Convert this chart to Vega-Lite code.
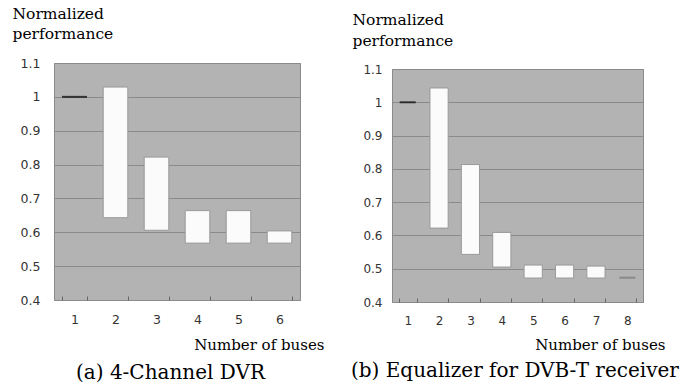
{
  "$schema": "https://vega.github.io/schema/vega-lite/v6.json",
  "padding": {"left": 11, "top": 0, "right": 0, "bottom": 0},
  "background": "white",
  "config": {
    "view": {"fill": "#b3b3b3", "stroke": "#8a8a8a", "strokeWidth": 1}
  },
  "spacing": 25,
  "hconcat": [
    {
      "spacing": 0,
      "vconcat": [
        {
          "width": 1,
          "height": 5,
          "view": {"fill": null, "stroke": null},
          "data": {"values": []},
          "mark": "point"
        },
        {
          "width": 246,
          "height": 237,
          "title": {"text": "(a) 4-Channel DVR", "orient": "bottom", "anchor": "start", "frame": "group", "dx": 22, "offset": 11, "fontSize": 20, "font": "DejaVu Serif", "fontWeight": "normal", "color": "#000000"},
          "data": {"values": [
            {"bus": 1, "lo": 1.0, "hi": 1.0},
            {"bus": 2, "lo": 0.643, "hi": 1.029},
            {"bus": 3, "lo": 0.606, "hi": 0.822},
            {"bus": 4, "lo": 0.568, "hi": 0.664},
            {"bus": 5, "lo": 0.568, "hi": 0.664},
            {"bus": 6, "lo": 0.568, "hi": 0.604}
          ]},
          "encoding": {
            "y": {"field": "lo", "type": "quantitative", "scale": {"domain": [0.4, 1.1], "nice": false, "zero": false},
              "axis": {"values": [0.4, 0.5, 0.6, 0.7, 0.8, 0.9, 1.0, 1.1], "format": ".1~f", "grid": true, "gridColor": "#8a8a8a", "gridWidth": 1, "ticks": false, "domain": false,
                "labelFont": "DejaVu Sans", "labelFontSize": 12.5, "labelColor": "#333333", "labelPadding": 14,
                "title": ["Normalized", "performance"], "titleFont": "DejaVu Serif", "titleFontSize": 15.5, "titleFontWeight": "normal", "titleColor": "#000000",
                "titleAngle": 0, "titleAlign": "left", "titleBaseline": "top", "titleX": -42, "titleY": -57, "titleLineHeight": 20}}
          },
          "layer": [
            {
              "mark": {"type": "bar", "fill": "#fbfbfb", "stroke": "#999999", "strokeWidth": 1},
              "transform": [{"filter": "datum.lo != datum.hi"}],
              "encoding": {
                "x": {"field": "bus", "type": "ordinal", "scale": {"domain": [1, 2, 3, 4, 5, 6], "paddingInner": 0.4, "paddingOuter": 0.2},
                  "axis": {"title": "Number of buses", "titleFont": "DejaVu Serif", "titleFontSize": 15, "titleFontWeight": "normal", "titleColor": "#000000",
                    "titleAlign": "right", "titleX": 270, "titleY": 53, "titleBaseline": "alphabetic",
                    "labelAngle": 0, "labelFont": "DejaVu Sans", "labelFontSize": 12.5, "labelColor": "#333333", "labelPadding": 13,
                    "offset": -4, "domain": false, "grid": false, "ticks": true, "tickBand": "extent", "tickSize": 4, "tickWidth": 1, "tickColor": "#666666"}},
                "y2": {"field": "hi"}
              }
            },
            {
              "mark": {"type": "tick", "thickness": 2, "size": 25},
              "transform": [{"filter": "datum.lo == datum.hi"}],
              "encoding": {
                "x": {"field": "bus", "type": "ordinal"},
                "color": {"condition": {"test": "datum.bus == 1", "value": "#000000"}, "value": "#777777"}
              }
            }
          ]
        }
      ]
    },
    {
      "spacing": 0,
      "vconcat": [
        {
          "width": 1,
          "height": 11,
          "view": {"fill": null, "stroke": null},
          "data": {"values": []},
          "mark": "point"
        },
        {
          "width": 251,
          "height": 233,
          "title": {"text": "(b) Equalizer for DVB-T receiver", "orient": "bottom", "anchor": "start", "frame": "group", "dx": -41, "offset": 9, "fontSize": 20, "font": "DejaVu Serif", "fontWeight": "normal", "color": "#000000"},
          "data": {"values": [
            {"bus": 1, "lo": 1.0, "hi": 1.0},
            {"bus": 2, "lo": 0.622, "hi": 1.043},
            {"bus": 3, "lo": 0.543, "hi": 0.813},
            {"bus": 4, "lo": 0.505, "hi": 0.609},
            {"bus": 5, "lo": 0.472, "hi": 0.511},
            {"bus": 6, "lo": 0.472, "hi": 0.511},
            {"bus": 7, "lo": 0.472, "hi": 0.508},
            {"bus": 8, "lo": 0.473, "hi": 0.473}
          ]},
          "encoding": {
            "y": {"field": "lo", "type": "quantitative", "scale": {"domain": [0.4, 1.1], "nice": false, "zero": false},
              "axis": {"values": [0.4, 0.5, 0.6, 0.7, 0.8, 0.9, 1.0, 1.1], "format": ".1~f", "grid": true, "gridColor": "#8a8a8a", "gridWidth": 1, "ticks": false, "domain": false,
                "labelFont": "DejaVu Sans", "labelFontSize": 12, "labelColor": "#333333", "labelPadding": 10,
                "title": ["Normalized", "performance"], "titleFont": "DejaVu Serif", "titleFontSize": 15.5, "titleFontWeight": "normal", "titleColor": "#000000",
                "titleAngle": 0, "titleAlign": "left", "titleBaseline": "top", "titleX": -40, "titleY": -57, "titleLineHeight": 21}}
          },
          "layer": [
            {
              "mark": {"type": "bar", "fill": "#fbfbfb", "stroke": "#999999", "strokeWidth": 1},
              "transform": [{"filter": "datum.lo != datum.hi"}],
              "encoding": {
                "x": {"field": "bus", "type": "ordinal", "scale": {"domain": [1, 2, 3, 4, 5, 6, 7, 8], "paddingInner": 0.42, "paddingOuter": 0.21},
                  "axis": {"title": "Number of buses", "titleFont": "DejaVu Serif", "titleFontSize": 15, "titleFontWeight": "normal", "titleColor": "#000000",
                    "titleAlign": "right", "titleX": 273, "titleY": 51, "titleBaseline": "alphabetic",
                    "labelAngle": 0, "labelFont": "DejaVu Sans", "labelFontSize": 12, "labelColor": "#333333", "labelPadding": 13,
                    "offset": -4, "domain": false, "grid": false, "ticks": true, "tickBand": "extent", "tickSize": 4, "tickWidth": 1, "tickColor": "#666666"}},
                "y2": {"field": "hi"}
              }
            },
            {
              "mark": {"type": "tick", "thickness": 2, "size": 16},
              "transform": [{"filter": "datum.lo == datum.hi"}],
              "encoding": {
                "x": {"field": "bus", "type": "ordinal"},
                "color": {"condition": {"test": "datum.bus == 1", "value": "#000000"}, "value": "#777777"}
              }
            }
          ]
        }
      ]
    }
  ]
}
